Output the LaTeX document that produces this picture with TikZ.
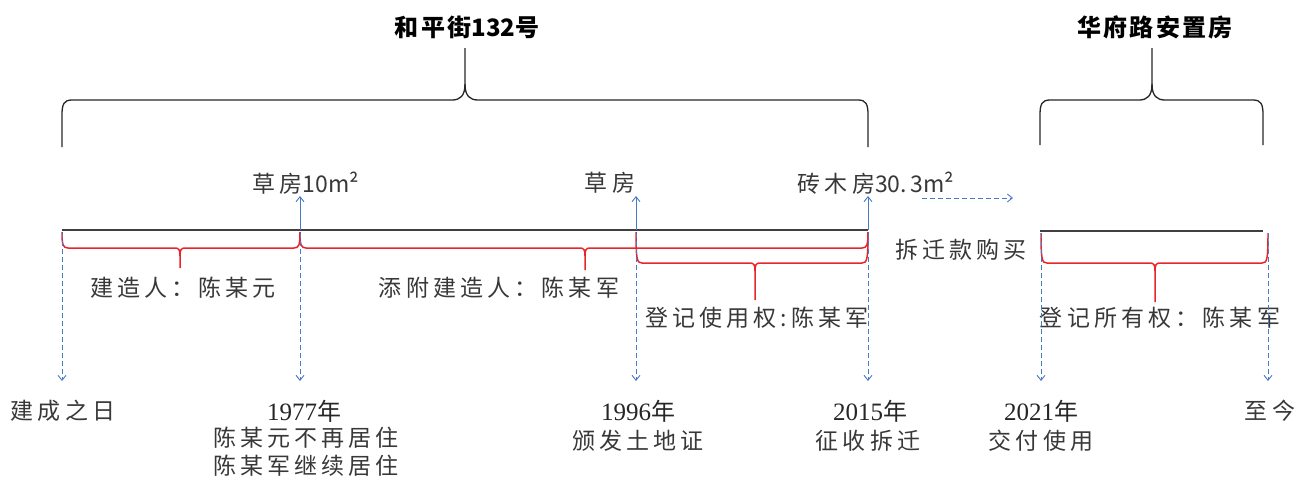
\documentclass[tikz,border=0pt]{standalone}
\usepackage{fontspec}
\setmainfont{Liberation Serif}
\newfontfamily\cjk[LetterSpace=18]{Noto Sans CJK SC}
\newfontfamily\cjkt[LetterSpace=10]{Noto Sans CJK SC}
\newfontfamily\cjkn{Noto Sans CJK SC}
\usetikzlibrary{arrows.meta}
\definecolor{rdc}{HTML}{E8262A}
\definecolor{blc}{HTML}{4A78C8}
\definecolor{txc}{HTML}{383838}
\newcommand\redbr[6]{%
 \draw[rd] (#1,#4) .. controls (#1,#5-3) and (#1+1,#5) .. (#1+6,#5) -- (#3-5,#5) .. controls (#3-1,#5) and (#3,#5+2) .. (#3,#5+8) -- (#3,#6);
 \draw[rd] (#3,#5+8) .. controls (#3,#5+2) and (#3+1,#5) .. (#3+5,#5) -- (#2-6,#5) .. controls (#2-1,#5) and (#2,#5-3) .. (#2,#4);}
\newcommand\blkbr[4]{% x1 x2 xm ybottom
 \draw[bk] (#1,#4) -- (#1,115) .. controls (#1,104) and (#1+2,100) .. (#1+10,100) -- (#3-13,100) .. controls (#3-5,100) and (#3,96) .. (#3,84) -- (#3,48);
 \draw[bk] (#3,84) .. controls (#3,96) and (#3+5,100) .. (#3+13,100) -- (#2-10,100) .. controls (#2-2,100) and (#2,104) .. (#2,115) -- (#2,#4);}
\tikzset{
 bk/.style={draw=black!85, line width=1.3pt},
 rd/.style={draw=rdc, line width=1.5pt},
 tl/.style={draw=black!75, line width=1.8pt},
 up/.style={draw=blc, line width=0.9pt, -{Straight Barb[length=5pt,width=8pt]}},
 dn/.style={draw=blc, line width=0.9pt, dashed, dash pattern=on 5pt off 3pt, -{Straight Barb[length=5pt,width=8pt]}},
 lbl/.style={inner sep=0pt, text=txc, font=\cjk\fontsize{23}{26}\selectfont},
 ttl/.style={inner sep=0pt, text=black, font=\cjkt\bfseries\fontsize{24}{26}\selectfont},
 yr/.style={inner sep=0pt, text=black!85, font=\fontsize{25}{28}\selectfont},
 sub/.style={inner sep=0pt, text=txc, font=\cjk\fontsize{23}{28}\selectfont, align=center}
}
\newcommand\dg[1]{{\cjkn #1}}
\begin{document}
\begin{tikzpicture}[x=1pt,y=-1pt]
\useasboundingbox (0,0) rectangle (1306,488);
% titles and black braces
\node[ttl] (t1) at (467,27) {和平街\dg{132}号};
\node[ttl] (t2) at (1155,27) {华府路安置房};
\blkbr{62}{868}{465}{147}
\blkbr{1040}{1263}{1152}{145}
% timelines
\coordinate (L0) at (62,230); \coordinate (L1) at (868,230);
\coordinate (R0) at (1040,231); \coordinate (R1) at (1263,231);
\draw[tl] (L0) -- (L1);
\draw[tl] (R0) -- (R1);
% red braces
\redbr{62}{300}{180}{232}{248}{268}
\redbr{300}{868}{585}{232}{248}{270}
\redbr{636}{868}{755}{232}{263}{300}
\redbr{1041}{1268}{1155}{233}{263}{302}
% upper labels and arrows
\node[lbl] (h1) at (306,183) {草房\dg{10m²}};
\node[lbl] (h2) at (610,183) {草房};
\node[lbl] (h3) at (876,183) {砖木房\dg{30.\,3m²}};
\coordinate (a1) at (300,230); \coordinate (b1) at (300,196);
\coordinate (a2) at (636,230); \coordinate (b2) at (636,196);
\coordinate (a3) at (868,230); \coordinate (b3) at (868,196);
\draw[up] (a1) -- (b1);
\draw[up] (a2) -- (b2);
\draw[up] (a3) -- (b3);
\coordinate (m0) at (922,198); \coordinate (m1) at (1013,198);
\draw[dn] (m0) -- (m1);
% middle labels
\node[lbl] (c1) at (183,288) {建造人：陈某元};
\node[lbl] (c2) at (499,288) {添附建造人：陈某军};
\node[lbl] (c3) at (757,318) {登记使用权:陈某军};
\node[lbl] (c4) at (1160,318) {登记所有权：陈某军};
\node[lbl] (c5) at (961,250) {拆迁款购买};
% dashed down arrows
\foreach \n/\x in {d0/62,d1/300,d2/636,d3/868,d4/1041,d5/1268}{
  \coordinate (\n s) at (\x,233); \coordinate (\n e) at (\x,381);
  \draw[dn] (\n s) -- (\n e);
}
% bottom labels
\node[lbl] (e0) at (63,411) {建成之日};
\node[yr] (y1) at (304,411) {1977{\cjkn\fontsize{24}{26}\selectfont 年}};
\node[sub] (s1) at (306,452) {陈某元不再居住\\陈某军继续居住};
\node[yr] (y2) at (638,411) {1996{\cjkn\fontsize{24}{26}\selectfont 年}};
\node[sub] (s2) at (638,441) {颁发土地证};
\node[yr] (y3) at (870,411) {2015{\cjkn\fontsize{24}{26}\selectfont 年}};
\node[sub] (s3) at (868,441) {征收拆迁};
\node[yr] (y4) at (1041,411) {2021{\cjkn\fontsize{24}{26}\selectfont 年}};
\node[sub] (s4) at (1041,441) {交付使用};
\node[lbl] (e5) at (1270,411) {至今};
\end{tikzpicture}
\end{document}
